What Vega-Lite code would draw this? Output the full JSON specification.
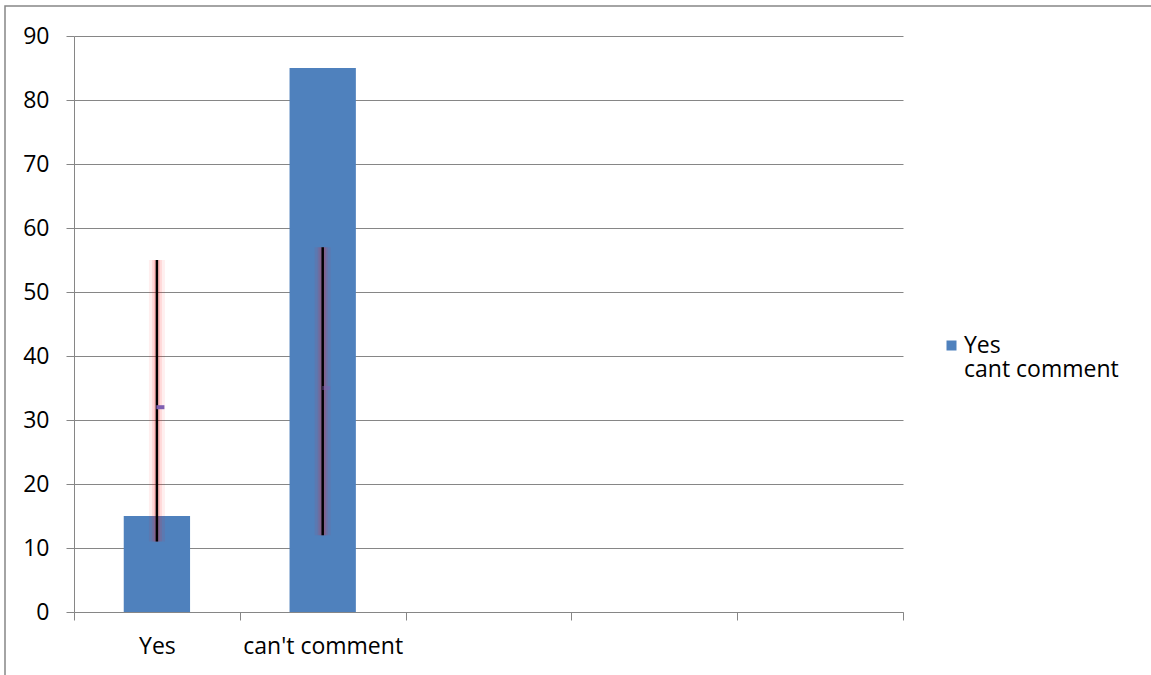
{
  "$schema": "https://vega.github.io/schema/vega-lite/v6.json",
  "width": 829,
  "height": 576,
  "autosize": {"type": "none"},
  "padding": {"left": 74, "top": 36, "right": 248, "bottom": 63},
  "background": "white",
  "config": {
    "view": {"stroke": null},
    "font": "Open Sans",
    "axis": {
      "domainColor": "#868686",
      "tickColor": "#868686",
      "gridColor": "#868686",
      "labelColor": "#000000",
      "labelFont": "Open Sans",
      "labelFontSize": 23,
      "tickSize": 8,
      "domainWidth": 1,
      "tickWidth": 1,
      "gridWidth": 1
    },
    "legend": {"labelFont": "Open Sans", "labelFontSize": 23, "labelColor": "#000000"}
  },
  "datasets": {
    "responses": [
      {"category": "Yes", "value": 15, "series": "Yes"},
      {"category": "can't comment", "value": 85, "series": "Yes"}
    ],
    "spread": [
      {"category": "Yes", "low": 11, "high": 55, "mid": 32},
      {"category": "can't comment", "low": 12, "high": 57, "mid": 35}
    ]
  },
  "resolve": {"scale": {"x": "independent", "y": "independent"}},
  "layer": [
    {
      "description": "chart area frame",
      "data": {"values": [{}]},
      "mark": {"type": "rect", "fill": null, "stroke": "#868686", "strokeWidth": 1.5},
      "encoding": {
        "x": {"datum": 0, "type": "quantitative", "scale": {"domain": [0, 1], "range": [-69, 1300]}, "axis": null},
        "x2": {"datum": 1},
        "y": {"datum": 0, "type": "quantitative", "scale": {"domain": [0, 1], "range": [-30, 700]}, "axis": null},
        "y2": {"datum": 1}
      }
    },
    {
      "layer": [
        {
          "data": {"name": "responses"},
          "mark": {"type": "bar", "width": {"band": 0.4}},
          "encoding": {
            "x": {
              "field": "category",
              "type": "nominal",
              "title": null,
              "scale": {"domain": ["Yes", "can't comment", "slot3", "slot4", "slot5"], "paddingInner": 0, "paddingOuter": 0},
              "axis": {
                "tickBand": "extent",
                "labelAngle": 0,
                "labelPadding": 15,
                "grid": false,
                "labelExpr": "indexof(['Yes', \"can't comment\"], datum.value) >= 0 ? datum.value : ''"
              }
            },
            "y": {
              "field": "value",
              "type": "quantitative",
              "title": null,
              "scale": {"domain": [0, 90]},
              "axis": {"values": [0, 10, 20, 30, 40, 50, 60, 70, 80, 90], "grid": true, "labelPadding": 17}
            },
            "color": {
              "field": "series",
              "type": "nominal",
              "scale": {"domain": ["Yes", "cant comment"], "range": ["#4F81BD", "rgba(0,0,0,0)"]},
              "legend": {
                "title": null,
                "orient": "none",
                "legendX": 866,
                "legendY": 298,
                "symbolType": "square",
                "symbolSize": 100,
                "symbolStrokeWidth": 0,
                "labelOffset": 1,
                "rowPadding": 0,
                "padding": 0
              }
            }
          }
        },
        {
          "data": {"name": "spread"},
          "mark": {"type": "rule", "color": "#FF2020", "strokeWidth": 16, "opacity": 0.07},
          "encoding": {
            "x": {"field": "category", "type": "nominal"},
            "y": {"field": "low", "type": "quantitative"},
            "y2": {"field": "high"}
          }
        },
        {
          "data": {"name": "spread"},
          "mark": {"type": "rule", "color": "#FF2020", "strokeWidth": 10, "opacity": 0.1},
          "encoding": {
            "x": {"field": "category", "type": "nominal"},
            "y": {"field": "low", "type": "quantitative"},
            "y2": {"field": "high"}
          }
        },
        {
          "data": {"name": "spread"},
          "mark": {"type": "rule", "color": "#FF2020", "strokeWidth": 6, "opacity": 0.16},
          "encoding": {
            "x": {"field": "category", "type": "nominal"},
            "y": {"field": "low", "type": "quantitative"},
            "y2": {"field": "high"}
          }
        },
        {
          "data": {"name": "spread"},
          "mark": {"type": "rule", "color": "#000000", "strokeWidth": 2.5},
          "encoding": {
            "x": {"field": "category", "type": "nominal"},
            "y": {"field": "low", "type": "quantitative"},
            "y2": {"field": "high"}
          }
        },
        {
          "data": {"name": "spread"},
          "mark": {"type": "tick", "color": "#7F5FB0", "size": 8, "thickness": 4, "xOffset": 3.5},
          "encoding": {
            "x": {"field": "category", "type": "nominal"},
            "y": {"field": "mid", "type": "quantitative"},
            "opacity": {"condition": {"test": "datum.category === 'Yes'", "value": 1}, "value": 0.45}
          }
        }
      ]
    }
  ]
}
